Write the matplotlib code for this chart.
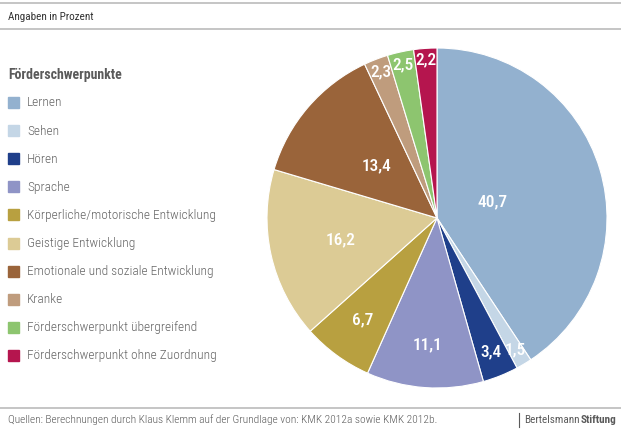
import numpy as np
import matplotlib.pyplot as plt
from matplotlib.patches import Rectangle

plt.rcParams['font.family'] = ['Roboto Condensed', 'DejaVu Sans']

categories = ['Lernen', 'Sehen', 'Hören', 'Sprache', 'Körperliche/motorische Entwicklung',
              'Geistige Entwicklung', 'Emotionale und soziale Entwicklung', 'Kranke',
              'Förderschwerpunkt übergreifend', 'Förderschwerpunkt ohne Zuordnung']
values = [40.7, 1.5, 3.4, 11.1, 6.7, 16.2, 13.4, 2.3, 2.5, 2.2]
colors = ['#93b1cf', '#c4d6e6', '#1f3f8a', '#8f94c6', '#b8a040',
          '#dccb95', '#9a643a', '#bf9c7d', '#8dc56f', '#b5154e']
# radial position of the value labels (fraction of radius)
label_r = [0.34, 0.9, 0.85, 0.75, 0.74, 0.58, 0.47, 0.92, 0.92, 0.93]

W, H = 621, 429
fig = plt.figure(figsize=(W / 100, H / 100), dpi=100)
fig.patch.set_facecolor('white')

gray = '#5a5a5a'
# header and footer rules
for y in [3, 29, 408]:
    fig.add_artist(plt.Line2D([0, 1], [1 - y / H, 1 - y / H], color='#bbbbbb', lw=1.2))
fig.text(8 / W, 1 - 17 / H, 'Angaben in Prozent', fontsize=8, color='#333333', va='center')
fig.text(8 / W, 1 - 420 / H, 'Quellen: Berechnungen durch Klaus Klemm auf der Grundlage von: KMK 2012a sowie KMK 2012b.',
         fontsize=8.2, color=gray, va='center', fontweight='light')
fig.add_artist(plt.Line2D([519 / W, 519 / W], [1 - 413 / H, 1 - 427 / H], color=gray, lw=0.8))
t1 = fig.text(524 / W, 1 - 420 / H, 'Bertelsmann', fontsize=8, color=gray, va='center')
fig.canvas.draw()
x_end = t1.get_window_extent().x1
fig.text((x_end + 1) / W, 1 - 420 / H, 'Stiftung', fontsize=8, color=gray, va='center', fontweight='bold')

# legend
fig.text(8 / W, 1 - 75 / H, 'Förderschwerpunkte', fontsize=10, color=gray, fontweight='bold', va='center')
for i, (cat, col) in enumerate(zip(categories, colors)):
    y = 103 + i * 28.1
    fig.add_artist(Rectangle((8 / W, 1 - (y + 5) / H), 11 / W, 11 / H, color=col, transform=fig.transFigure))
    fig.text(27 / W, 1 - y / H, cat, fontsize=9.6, color='#666666', va='center', fontweight='light')

# pie
cx, cy, R = 437, 218, 170
ax = fig.add_axes([(cx - R) / W, (H - cy - R) / H, 2 * R / W, 2 * R / H])
wedges, _ = ax.pie(values, colors=colors, startangle=90, counterclock=False, radius=1,
                   wedgeprops=dict(edgecolor='white', linewidth=0.8))
ax.set_xlim(-1, 1)
ax.set_ylim(-1, 1)
ax.axis('off')

for w, v, r in zip(wedges, values, label_r):
    ang = np.deg2rad((w.theta1 + w.theta2) / 2)
    ax.text(r * np.cos(ang), r * np.sin(ang), f'{v:.1f}'.replace('.', ','),
            ha='center', va='center', color='white', fontsize=12.5, fontweight='medium')

fig.savefig('out.png', dpi=100)
